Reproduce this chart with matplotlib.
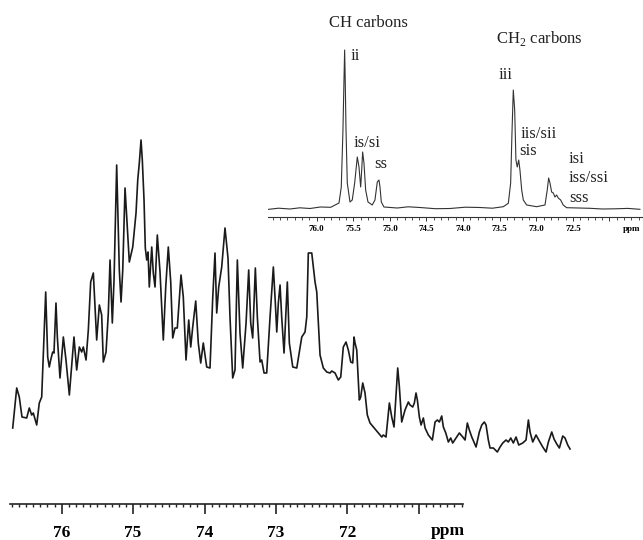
import numpy as np
import matplotlib
matplotlib.use("Agg")
import matplotlib.pyplot as plt
from matplotlib.ticker import MultipleLocator, FixedLocator

plt.rcParams['font.family'] = ['Liberation Serif', 'DejaVu Serif']
plt.rcParams['mathtext.fontset'] = 'custom'
plt.rcParams['mathtext.rm'] = 'Liberation Serif'

# main spectrum: chemical shift (ppm) and intensity (a.u.)
main_ppm = [76.686, 76.630, 76.594, 76.556, 76.490, 76.454, 76.420, 76.398, 76.350, 76.314,
            76.280, 76.224, 76.196, 76.174, 76.154, 76.126, 76.108, 76.080, 76.061, 76.024,
            75.977, 75.940, 75.893, 75.828, 75.790, 75.753, 75.720, 75.697, 75.659, 75.627,
            75.594, 75.557, 75.510, 75.473, 75.440, 75.417, 75.379, 75.347, 75.323, 75.291,
            75.267, 75.230, 75.193, 75.169, 75.145, 75.113, 75.089, 75.053, 75.005, 74.959,
            74.935, 74.913, 74.889, 74.871, 74.847, 74.829, 74.809, 74.791, 74.773, 74.739,
            74.717, 74.693, 74.661, 74.623, 74.577, 74.543, 74.507, 74.473, 74.445, 74.413,
            74.381, 74.329, 74.297, 74.259, 74.221, 74.193, 74.165, 74.123, 74.087, 74.053,
            74.017, 73.969, 73.923, 73.885, 73.853, 73.829, 73.801, 73.759, 73.713, 73.671,
            73.643, 73.605, 73.573, 73.540, 73.503, 73.465, 73.418, 73.381, 73.353, 73.325,
            73.288, 73.260, 73.222, 73.199, 73.166, 73.129, 73.082, 73.036, 73.008, 72.988,
            72.966, 72.942, 72.919, 72.886, 72.840, 72.812, 72.764, 72.708, 72.638, 72.592,
            72.568, 72.546, 72.498, 72.452, 72.428, 72.382, 72.336, 72.288, 72.242, 72.218,
            72.172, 72.126, 72.092, 72.056, 72.018, 71.986, 71.952, 71.924, 71.906, 71.892,
            71.868, 71.832, 71.812, 71.784, 71.752, 71.720, 71.682, 71.635, 71.598, 71.566,
            71.518, 71.496, 71.458, 71.411, 71.378, 71.346, 71.294, 71.271, 71.238, 71.192,
            71.145, 71.122, 71.084, 71.061, 71.038, 71.019, 70.991, 70.967, 70.935, 70.911,
            70.865, 70.809, 70.771, 70.739, 70.711, 70.678, 70.655, 70.621, 70.585, 70.552,
            70.524, 70.477, 70.431, 70.383, 70.351, 70.319, 70.291, 70.257, 70.197, 70.151,
            70.117, 70.081, 70.057, 70.025, 70.001, 69.955, 69.899, 69.861, 69.823, 69.777,
            69.745, 69.711, 69.675, 69.637, 69.599, 69.543, 69.497, 69.464, 69.441, 69.403,
            69.357, 69.311, 69.263, 69.217, 69.184, 69.137, 69.105, 69.067, 69.030, 68.983,
            68.951, 68.913, 68.881]
main_int = [32, 72, 63, 43, 42, 52, 45, 47, 35, 57,
            63, 168, 103, 93, 100, 108, 107, 157, 123, 82,
            123, 100, 65, 123, 90, 113, 108, 113, 100, 130,
            178, 187, 120, 155, 145, 98, 108, 147, 200, 137,
            180, 295, 190, 158, 190, 272, 243, 198, 213, 247,
            280, 297, 320, 300, 260, 212, 200, 208, 173, 213,
            187, 173, 225, 188, 120, 173, 213, 178, 122, 132,
            132, 185, 163, 100, 140, 113, 133, 159, 117, 97,
            117, 93, 92, 162, 207, 147, 173, 193, 232, 202,
            143, 82, 90, 200, 127, 92, 137, 190, 137, 122,
            192, 143, 98, 100, 87, 87, 143, 193, 157, 128,
            157, 175, 143, 107, 178, 117, 93, 92, 123, 128,
            143, 207, 207, 178, 168, 105, 92, 88, 87, 89,
            87, 80, 83, 113, 118, 110, 98, 97, 123, 117,
            110, 60, 63, 77, 67, 45, 37, 33, 30, 27,
            23, 25, 23, 57, 43, 33, 92, 73, 38, 50,
            58, 55, 53, 57, 67, 60, 43, 35, 42, 32,
            25, 20, 38, 40, 38, 44, 33, 27, 18, 22,
            17, 22, 27, 23, 20, 37, 30, 23, 13, 28,
            35, 38, 35, 20, 12, 12, 8, 13, 17, 20,
            18, 22, 17, 23, 15, 17, 20, 40, 28, 18,
            25, 19, 13, 8, 18, 28, 21, 16, 12, 24,
            22, 15, 11]

# inset spectrum (CH and CH2 carbons)
inset_ppm = [76.679, 76.520, 76.365, 76.230, 76.092, 75.950, 75.809, 75.695, 75.664, 75.641,
             75.627, 75.618, 75.610, 75.600, 75.582, 75.545, 75.514, 75.481, 75.445, 75.422,
             75.399, 75.385, 75.372, 75.354, 75.331, 75.299, 75.241, 75.204, 75.172, 75.149,
             75.135, 75.117, 75.081, 74.899, 74.750, 74.589, 74.380, 74.179, 73.970, 73.770,
             73.600, 73.451, 73.382, 73.350, 73.332, 73.314, 73.295, 73.278, 73.260, 73.240,
             73.223, 73.199, 73.177, 73.131, 72.995, 72.881, 72.850, 72.831, 72.813, 72.790,
             72.768, 72.745, 72.722, 72.700, 72.667, 72.632, 72.585, 72.420, 72.267, 72.100,
             71.926, 71.750, 71.584]
inset_int = [-0.5, 0.8, 0, 1.2, 0.5, 2.0, 1.7, 6, 22, 79,
             129, 159, 129, 82, 26, 7, 9, 26, 52, 42,
             22, 39, 57, 46, 19, 7, 4, 9, 27, 29,
             22, 7, 2, 1, 2.2, 1.5, 0.3, 0.5, 1.8, 1.5,
             0.8, 2.3, 5.7, 26, 76, 119, 99, 49, 42, 49,
             39, 19, 9, 4, 2.3, 4, 19, 31, 26, 17,
             16, 12, 14, 11, 9, 4, 1.3, 1.0, 0.7, 0.0,
             0.2, 0.6, -0.3]

main_major = [76, 75, 74, 73, 72, 71]
main_labels = ["76", "75", "74", "73", "72", ""]
inset_major = [76.0, 75.5, 75.0, 74.5, 74.0, 73.5, 73.0, 72.5, 72.0]
inset_labels = ["76.0", "75.5", "75.0", "74.5", "74.0", "73.5", "73.0", "72.5", ""]

W, H = 643, 540
fig = plt.figure(figsize=(W / 100, H / 100), dpi=100)

# main spectrum
ax = fig.add_axes([0, 36 / H, 1, 504 / H], facecolor='none')
ax.plot(main_ppm, main_int, color='#1a1a1a', lw=1.2)
ax.set_xlim(76.864, 67.859)
ax.set_ylim(-44, 460)
for s in ['top', 'left', 'right']:
    ax.spines[s].set_visible(False)
ax.spines['bottom'].set_bounds(76.724, 70.379)
ax.spines['bottom'].set_linewidth(1.2)
ax.spines['bottom'].set_color('#222222')
ax.set_yticks([])
ax.xaxis.set_major_locator(FixedLocator(main_major))
ax.set_xticklabels(main_labels, fontweight='bold', fontsize=12.5)
ax.xaxis.set_minor_locator(FixedLocator(np.round(np.arange(76.7, 70.35, -0.1), 1)))
ax.tick_params(axis='x', which='major', direction='out', length=7, width=1.2, pad=8, color='#222222')
ax.tick_params(axis='x', which='minor', direction='out', length=2.5, width=1.0, color='#222222')
fig.text(448 / W, 1 - 531 / H, "ppm", ha='center', va='center', fontsize=12.5, fontweight='bold')

# inset spectrum
ins = fig.add_axes([268 / W, (H - 217) / H, 375 / W, 177 / H], facecolor='none')
ins.plot(inset_ppm, inset_int, color='#333333', lw=0.8)
ins.set_xlim(76.665, 71.542)
ins.set_ylim(-8, 169)
for s in ['top', 'left', 'right']:
    ins.spines[s].set_visible(False)
ins.spines['bottom'].set_linewidth(0.8)
ins.spines['bottom'].set_color('#333333')
ins.set_yticks([])
ins.xaxis.set_major_locator(FixedLocator(inset_major))
ins.set_xticklabels(inset_labels, fontweight='bold', fontsize=6.5)
ins.xaxis.set_minor_locator(MultipleLocator(0.1))
ins.tick_params(axis='x', which='major', direction='out', length=3, width=0.7, pad=2.5, color='#333333')
ins.tick_params(axis='x', which='minor', direction='out', length=2, width=0.6, color='#333333')
fig.text(632 / W, 1 - 229 / H, "ppm", ha='center', va='center', fontsize=6.5, fontweight='bold')

# peak annotations
def lab(x, y, s, ha='center'):
    fig.text(x / W, 1 - y / H, s, ha=ha, va='center', fontsize=12, color='#222222')

lab(368, 23, "CH carbons")
lab(539, 38, "CH$_2$ carbons")
lab(351, 56, "ii", ha='left')
lab(354, 143, "is/si", ha='left')
lab(374, 164, "ss", ha='left')
lab(499, 75, "iii", ha='left')
lab(521, 134, "iis/sii", ha='left')
lab(519, 151, "sis", ha='left')
lab(569, 159, "isi", ha='left')
lab(569, 178, "iss/ssi", ha='left')
lab(569, 198, "sss", ha='left')

fig.savefig("out.png", dpi=100)
